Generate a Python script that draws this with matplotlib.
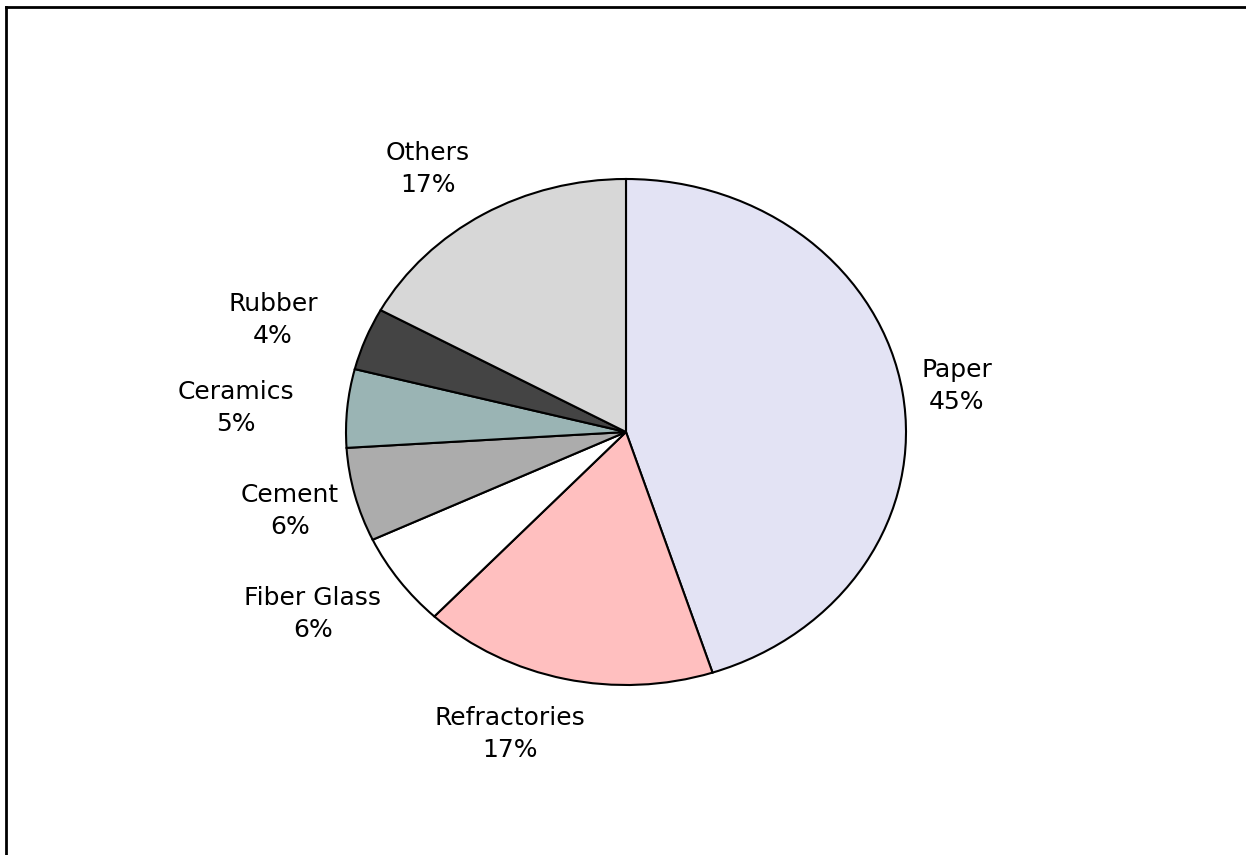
import matplotlib
matplotlib.use("Agg")
import matplotlib.pyplot as plt
from matplotlib.lines import Line2D

categories = ["Paper", "Refractories", "Fiber Glass", "Cement", "Ceramics", "Rubber", "Others"]
shares = [45, 17, 6, 6, 5, 4, 17]
colors = ["#E3E3F4", "#FFBFBF", "#FFFFFF", "#ACACAC", "#9AB4B4", "#444444", "#D7D7D7"]

# label centres in pixels (x from left, y from top)
label_pos = [(957, 386), (510, 734), (313, 614), (290, 511), (236, 408), (273, 320), (428, 169)]

W, H = 1246, 855
cx, cy = 626, 432     # pie centre, pixels
rx, ry = 280, 253     # the pie is drawn slightly squashed

fig = plt.figure(figsize=(W / 100, H / 100), dpi=100)
ax = fig.add_axes([0, 0, 1, 1])

ax.pie(shares, colors=colors, startangle=90, counterclock=False,
       wedgeprops=dict(edgecolor="black", linewidth=1.5))
ax.set_aspect("auto")
ax.set_xlim(-cx / rx, (W - cx) / rx)
ax.set_ylim(-(H - cy) / ry, cy / ry)
ax.axis("off")

for name, val, (x, y) in zip(categories, shares, label_pos):
    fig.text(x / W, 1 - y / H, f"{name}\n{val}%", ha="center", va="center",
             fontsize=18, family="DejaVu Sans", linespacing=1.45)

# outer frame (only top and left edges show)
fig.add_artist(Line2D([6 / W, 1], [1 - 7 / H, 1 - 7 / H], color="black", lw=2))
fig.add_artist(Line2D([6 / W, 6 / W], [0, 1 - 7 / H], color="black", lw=2))

fig.savefig("out.png", dpi=100)
